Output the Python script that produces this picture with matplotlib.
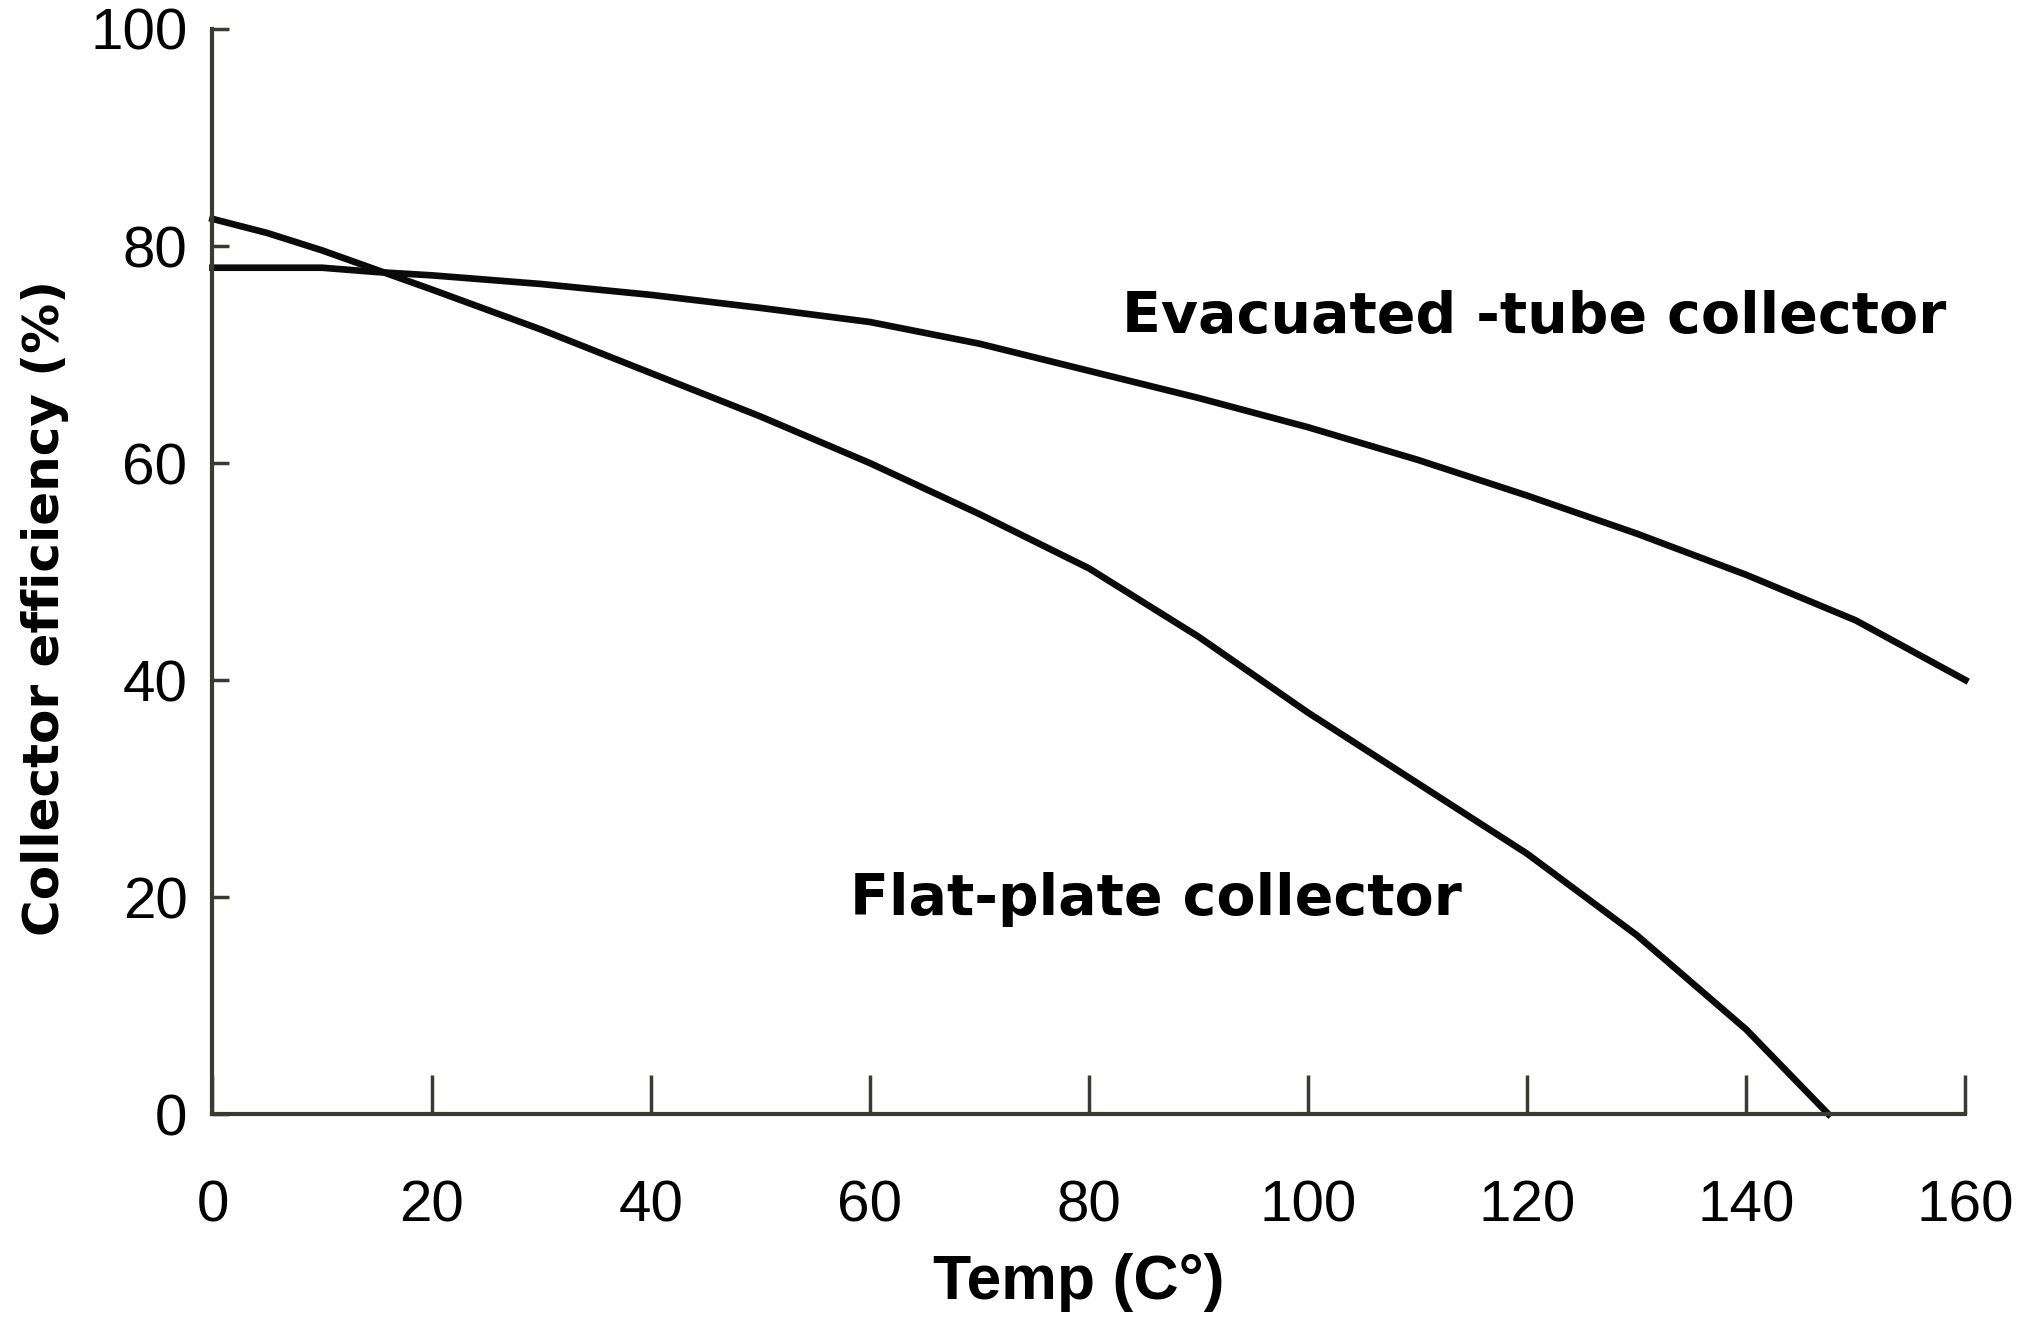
import matplotlib
matplotlib.use("Agg")
import matplotlib.pyplot as plt

# readings (temp in C, efficiency in %)
evac_temp = [0, 10, 15, 20, 30, 40, 50, 60, 70, 80, 90, 100, 110, 120, 130, 140, 150, 160]
evac_eff = [78, 78, 77.6, 77.3, 76.5, 75.5, 74.3, 73, 71, 68.5, 66, 63.3, 60.3, 57, 53.5, 49.7, 45.5, 40]

flat_temp = [0, 5, 10, 20, 30, 40, 50, 60, 70, 80, 90, 100, 110, 120, 130, 140, 147.5]
flat_eff = [82.5, 81.2, 79.6, 76, 72.3, 68.3, 64.3, 60, 55.3, 50.3, 44, 37, 30.5, 24, 16.5, 7.8, 0]

x_ticks = [0, 20, 40, 60, 80, 100, 120, 140, 160]
y_ticks = [0, 20, 40, 60, 80, 100]

plt.rcParams['font.family'] = ['Liberation Sans', 'DejaVu Sans']

fig = plt.figure(figsize=(20.43, 13.17), dpi=100)
ax = fig.add_axes([0.104, 0.154, 0.858, 0.824])

ax.plot(evac_temp, evac_eff, color='#0a0a0a', linewidth=4.8, clip_on=False)
ax.plot(flat_temp, flat_eff, color='#0a0a0a', linewidth=4.8, clip_on=False)

ax.text(83, 73.4, "Evacuated -tube collector", fontsize=41, fontweight='bold',
        family='DejaVu Sans', va='center', ha='left')
ax.text(58.2, 19.8, "Flat-plate collector", fontsize=41, fontweight='bold',
        family='DejaVu Sans', va='center', ha='left')

ax.set_xlim(0, 160)
ax.set_ylim(0, 100)
ax.set_xticks(x_ticks)
ax.set_yticks(y_ticks)

for s in ['top', 'right']:
    ax.spines[s].set_visible(False)
for s in ['left', 'bottom']:
    ax.spines[s].set_color('#3a3a33')
    ax.spines[s].set_linewidth(3)

ax.tick_params(axis='x', direction='in', length=28, width=2.5, color='#3a3a33',
               labelsize=42, pad=47)
ax.tick_params(axis='y', direction='in', length=12, width=2.5, color='#3a3a33',
               labelsize=42, pad=18)

ax.set_xlabel("Temp (C°)", fontsize=45, fontweight='bold')
ax.xaxis.set_label_coords(0.494, -0.128)
ax.set_ylabel("Collector efficiency (%)", fontsize=36, fontweight='bold',
              family='DejaVu Sans')
ax.yaxis.set_label_coords(-0.082, 0.466)

fig.savefig("out.png", dpi=100)
